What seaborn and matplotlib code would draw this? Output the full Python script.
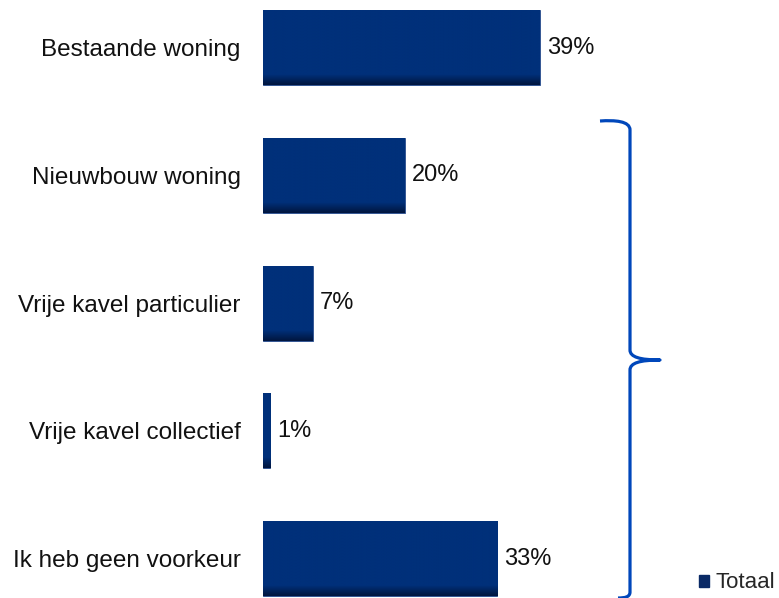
import numpy as np
import pandas as pd
import matplotlib
matplotlib.use("Agg")
import matplotlib.pyplot as plt
import seaborn as sns
from matplotlib.path import Path
from matplotlib.patches import PathPatch, Patch
from matplotlib.colors import to_rgba

# Preferred home type shares
categories = ["Bestaande woning", "Nieuwbouw woning", "Vrije kavel particulier",
              "Vrije kavel collectief", "Ik heb geen voorkeur"]
values = [39, 20, 7, 1, 33]
series_name = "Totaal"

df = pd.DataFrame({"categorie": categories, "waarde": values})

sns.set_theme(style="white")
plt.rcParams["font.family"] = ["Liberation Sans", "DejaVu Sans"]

BAR = "#00307A"
BAR_DARK = "#00163F"
BRACE = "#0047BB"

W, H = 779, 598
fig = plt.figure(figsize=(W / 100, H / 100), dpi=100)
ax = fig.add_axes([263 / W, 0, 355 / W, 1])

sns.barplot(data=df, x="waarde", y="categorie", orient="h", color=BAR,
            width=0.587, saturation=1, edgecolor="#2A4E8E", linewidth=0.6, ax=ax)

ax.set_xlim(0, 50)
ax.set_ylim(4.309, -0.372)

# darker shading along the lower edge of each bar
for patch in ax.containers[0]:
    x0, y0 = patch.get_x(), patch.get_y()
    w, h = patch.get_width(), patch.get_height()
    n = 100
    base = np.array(to_rgba(BAR))
    dark = np.array(to_rgba(BAR_DARK))
    t = np.clip((np.arange(n) / (n - 1) - 0.86) / 0.14, 0, 1)[:, None]
    grad = (base * (1 - t) + dark * t).reshape(n, 1, 4)
    ax.imshow(grad, extent=(x0, x0 + w, y0 + h, y0), origin="upper",
              aspect="auto", interpolation="bilinear", zorder=patch.get_zorder() + 0.1)

ax.set_xlim(0, 50)
ax.set_ylim(4.309, -0.372)

ax.bar_label(ax.containers[0], labels=[f"{v}%" for v in values],
             padding=5, fontsize=17, color="#111111")

ax.set_xlabel("")
ax.set_ylabel("")
ax.set_xticks([])
ax.tick_params(axis="y", length=0, pad=16, labelsize=17.5, labelcolor="#111111")
for s in ax.spines.values():
    s.set_visible(False)
ax.patch.set_alpha(0)

# brace grouping the new-build options
pts_px = [(600, 121), (615, 120), (630, 121), (630, 130),
          (630, 350),
          (630, 357), (640, 360), (660, 360),
          (640, 360), (630, 363), (630, 370),
          (630, 592),
          (630, 597), (625, 598), (618, 598)]
codes = [Path.MOVETO, Path.CURVE4, Path.CURVE4, Path.CURVE4,
         Path.LINETO,
         Path.CURVE4, Path.CURVE4, Path.CURVE4,
         Path.CURVE4, Path.CURVE4, Path.CURVE4,
         Path.LINETO,
         Path.CURVE4, Path.CURVE4, Path.CURVE4]
verts = [(x / W, 1 - y / H) for x, y in pts_px]
fig.patches.append(PathPatch(Path(verts, codes), transform=fig.transFigure,
                             facecolor="none", edgecolor=BRACE, lw=2.3,
                             capstyle="butt", joinstyle="round"))

fig.legend(handles=[Patch(facecolor="#0A2A66", edgecolor="#0A2A66")],
           labels=[series_name], loc="center left",
           bbox_to_anchor=(699 / W, 1 - 583 / H), frameon=False,
           fontsize=16, handlelength=0.45, handleheight=0.45,
           handletextpad=0.3, borderpad=0, borderaxespad=0)

fig.savefig("out.png", dpi=100)
